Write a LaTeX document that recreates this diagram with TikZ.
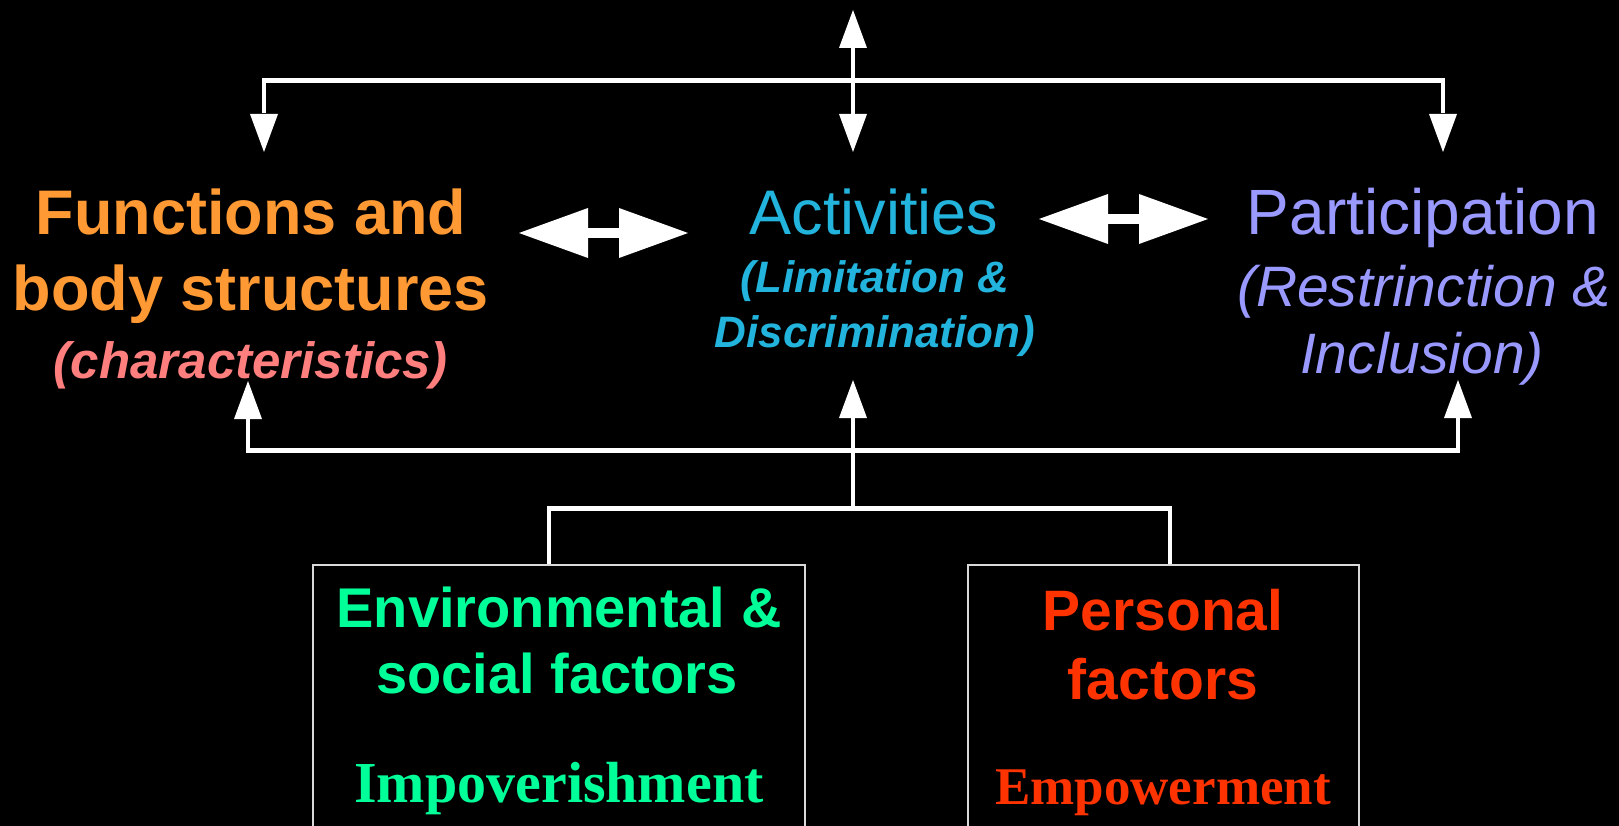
\documentclass[tikz,border=0pt]{standalone}
\usepackage{fontspec}
\setmainfont{Liberation Sans}
\newfontfamily\timesf{Liberation Serif}
\usetikzlibrary{calc}
\definecolor{cOrange}{HTML}{FF9933}
\definecolor{cPink}{HTML}{FF7F7F}
\definecolor{cCyan}{HTML}{22B4DC}
\definecolor{cLav}{HTML}{9999FF}
\definecolor{cGreen}{HTML}{00FF99}
\definecolor{cRed}{HTML}{FF3300}
\newcommand{\fsz}[1]{\fontsize{#1}{#1}\selectfont}
\begin{document}
\begin{tikzpicture}[x=1pt,y=1pt,
  conn/.style={draw=white, line width=4.5pt},
  shaft/.style={draw=white, line width=10pt},
  lbl/.style={anchor=base, inner sep=0pt, outer sep=0pt},
  factbox/.style={draw=white!85!black, line width=1.5pt, anchor=north west, inner sep=0pt, minimum height=340pt},
  uphead/.pic={\fill[white] (0,0) -- (-14,-38) -- (14,-38) -- cycle;},
  downhead/.pic={\fill[white] (0,0) -- (-14,38) -- (14,38) -- cycle;},
  lefthead/.pic={\fill[white] (0,0) -- (69,25) -- (69,-25) -- cycle;},
  righthead/.pic={\fill[white] (0,0) -- (-69,25) -- (-69,-25) -- cycle;}
]
\fill[black] (0,0) rectangle (1619,-826);
\useasboundingbox (0,0) rectangle (1619,-826);

% ---- text nodes
\node[lbl, text=cOrange, font=\bfseries\fsz{63}] (fun1) at (251,-235) {Functions and};
\node[lbl, text=cOrange, font=\bfseries\fsz{63}] (fun2) at (251,-310) {body structures};
\node[lbl, text=cPink, font=\bfseries\itshape\fsz{51}] (fun3) at (251,-378) {(characteristics)};

\node[lbl, text=cCyan, font=\fsz{63}] (act1) at (874,-235) {Activities};
\node[lbl, text=cCyan, font=\bfseries\itshape\fsz{44}] (act2) at (875,-293) {(Limitation \&};
\node[lbl, text=cCyan, font=\bfseries\itshape\fsz{44}] (act3) at (875,-347) {Discrimination)};

\node[lbl, text=cLav, font=\fsz{64}] (par1) at (1423,-235) {Participation};
\node[lbl, text=cLav, font=\itshape\fsz{57}] (par2) at (1424,-306) {(Restrinction \&};
\node[lbl, text=cLav, font=\itshape\fsz{57}] (par3) at (1422,-373) {Inclusion)};

% ---- factor boxes
\node[factbox, minimum width=492pt] (envbox) at (312,-564) {};
\node[factbox, minimum width=391pt] (persbox) at (967,-564) {};

\node[lbl, text=cGreen, font=\bfseries\fsz{56}] (env1) at (559,-627) {Environmental \&};
\node[lbl, text=cGreen, font=\bfseries\fsz{56}] (env2) at (557,-693) {social factors};
\node[lbl, text=cGreen, font=\timesf\bfseries\fsz{58}] (env3) at (559,-802) {Impoverishment};

\node[lbl, text=cRed, font=\bfseries\fsz{57}] (pers1) at (1163,-630) {Personal};
\node[lbl, text=cRed, font=\bfseries\fsz{57}] (pers2) at (1163,-699) {factors};
\node[lbl, text=cRed, font=\timesf\bfseries\fsz{53}] (pers3) at (1163,-804) {Empowerment};

% ---- top connector
\coordinate (outTop) at (853,-10);
\coordinate (topC)   at (853,-80.5);
\coordinate (funIn)  at (264,-152);
\coordinate (actIn)  at (853,-152);
\coordinate (parIn)  at (1443,-152);
\draw[conn] ($(funIn)+(0,39)$) |- (topC) -| ($(parIn)+(0,39)$);
\draw[conn] ($(outTop)+(0,-37)$) -- ($(actIn)+(0,37)$);
\pic at (outTop) {uphead};
\pic at (funIn) {downhead};
\pic at (actIn) {downhead};
\pic at (parIn) {downhead};

% ---- horizontal double arrows
\coordinate (dl1) at (519,-233);
\coordinate (dl2) at (688,-233);
\coordinate (dr1) at (1039,-219);
\coordinate (dr2) at (1208,-219);
\draw[shaft] ($(dl1)+(68,0)$) -- ($(dl2)+(-68,0)$);
\draw[shaft] ($(dr1)+(68,0)$) -- ($(dr2)+(-68,0)$);
\pic at (dl1) {lefthead};
\pic at (dl2) {righthead};
\pic at (dr1) {lefthead};
\pic at (dr2) {righthead};

% ---- bottom connector
\coordinate (botC)  at (853,-450.5);
\coordinate (funUp) at (248,-381);
\coordinate (actUp) at (853,-380);
\coordinate (parUp) at (1458,-380);
\coordinate (factC) at (853,-508.5);
\draw[conn] ($(funUp)+(0,-37)$) |- (botC) -| ($(parUp)+(0,-37)$);
\draw[conn] ($(actUp)+(0,-37)$) -- (factC);
\draw[conn] (envbox.north -| 549,0) |- (factC) -| (persbox.north -| 1170,0);
\pic at (funUp) {uphead};
\pic at (actUp) {uphead};
\pic at (parUp) {uphead};
\end{tikzpicture}
\end{document}
